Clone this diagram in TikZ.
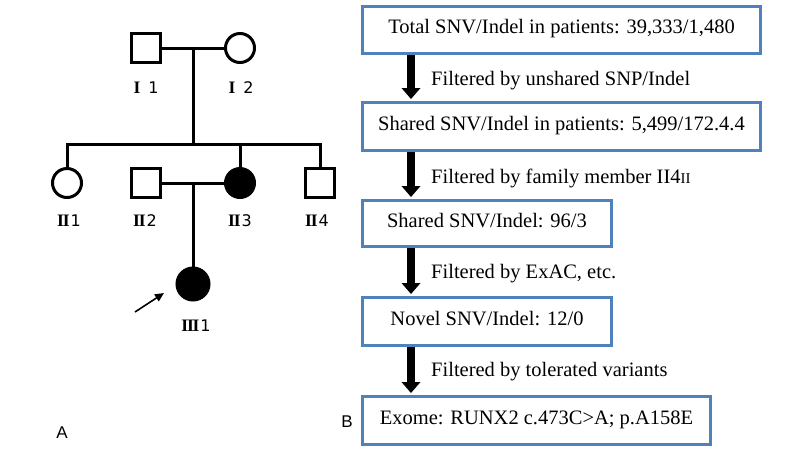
\documentclass[tikz,border=0pt]{standalone}
\usepackage{fontspec}
\setmainfont{Liberation Serif}
\newfontfamily\digfont{DejaVu Sans}
\newfontfamily\lsans{Liberation Sans}
\usetikzlibrary{arrows.meta}
\definecolor{boxblue}{RGB}{79,129,189}
\newcommand\romI{{\rmfamily\bfseries\fontsize{17.5}{18}\selectfont I}}
\newcommand\romII{{\rmfamily\bfseries\fontsize{17.5}{18}\selectfont I\kern-1.2pt I}}
\newcommand\romIII{{\rmfamily\bfseries\fontsize{17.5}{18}\selectfont I\kern-1.2pt I\kern-1.2pt I}}
\tikzset{
  flowbox/.style={draw=boxblue, line width=3pt, rectangle, inner sep=0pt,
    font=\fontsize{20.5}{24}\selectfont, text height=0.75em, text depth=0pt},
  flowarrow/.style={line width=8pt, -{Triangle[width=19pt,length=11pt,line width=0pt]}, shorten >=2pt},
  flowlabel/.style={anchor=base west, inner sep=0pt, font=\fontsize{20.5}{24}\selectfont},
  male/.style={draw, line width=3pt, rectangle, minimum size=29pt, inner sep=0pt},
  female/.style={draw, line width=3pt, circle, minimum size=29pt, inner sep=0pt},
  affected/.style={fill=black},
  pline/.style={line width=3pt},
  plabel/.style={inner sep=0pt, anchor=base, font=\digfont\fontsize{16}{18}\selectfont},
  panel/.style={inner sep=0pt, font=\lsans\fontsize{17}{20}\selectfont}
}
\begin{document}
\begin{tikzpicture}[x=1pt,y=-1pt]
\useasboundingbox (0,0) rectangle (800,451);
\fill[white] (0,0) rectangle (800,451);
% ---------- pedigree ----------
\node[male]   (p11) at (146,48) {};
\node[female] (p12) at (240,48) {};
\node[female] (p21) at (67,183) {};
\node[male]   (p22) at (146,183) {};
\node[female,affected] (p23) at (240,183) {};
\node[male]   (p24) at (320,183) {};
\node[female,affected,minimum size=32pt] (p31) at (193,284) {};
\coordinate (m1) at (193,48);
\coordinate (sib) at (193,144);
\coordinate (m2) at (193,183);
\draw[pline] (p11.east) -- (p12.west);
\draw[pline] (m1) -- (sib);
\draw[pline] (p21.north) |- (sib) -| (p24.north);
\draw[pline] (p23.north) -- (p23.north |- sib);
\draw[pline] (p22.east) -- (p23.west);
\draw[pline] (m2) -- (p31.north);
\coordinate (pa0) at (135,312);
\coordinate (pa1) at (164,293);
\draw[line width=1.6pt, -{Triangle[width=8pt,length=9pt]}] (pa0) -- (pa1);
\node[plabel] (l11) at (146,93) {\romI\hspace{8pt}1};
\node[plabel] (l12) at (241,93) {\romI\hspace{8pt}2};
\node[plabel] (l21) at (69,226) {\romII\hspace{1pt}1};
\node[plabel] (l22) at (145,226) {\romII\hspace{1pt}2};
\node[plabel] (l23) at (240,226) {\romII\hspace{1pt}3};
\node[plabel] (l24) at (317,226) {\romII\hspace{1pt}4};
\node[plabel] (l31) at (196,331) {\romIII\hspace{1pt}1};
\node[panel] (pA) at (62,433) {A};
% ---------- flow chart ----------
\node[flowbox, minimum width=398pt, minimum height=47pt] (b1) at (561.5,30) {Total SNV/Indel in patients: 39,333/1,480};
\node[flowbox, minimum width=398pt, minimum height=48pt] (b2) at (561.5,126.5) {Shared SNV/Indel in patients: 5,499/172.4.4};
\node[flowbox, minimum width=249pt, minimum height=46pt] (b3) at (487,223.5) {Shared SNV/Indel: 96/3};
\node[flowbox, minimum width=249pt, minimum height=48pt] (b4) at (487,321.5) {Novel SNV/Indel: 12/0};
\node[flowbox, minimum width=348pt, minimum height=48pt] (b5) at (536.5,420.5) {Exome: RUNX2 c.473C>A; p.A158E};
\draw[flowarrow] ([xshift=50pt]b1.south west) -- ([xshift=50pt]b2.north west);
\draw[flowarrow] ([xshift=50pt]b2.south west) -- ([xshift=50pt]b3.north west);
\draw[flowarrow] ([xshift=50pt]b3.south west) -- ([xshift=50pt]b4.north west);
\draw[flowarrow] ([xshift=50pt]b4.south west) -- ([xshift=50pt]b5.north west);
\node[flowlabel] (f1) at (431,85) {Filtered by unshared SNP/Indel};
\node[flowlabel] (f2) at (431,183) {Filtered by family member II4{\fontsize{15}{18}\selectfont II}};
\node[flowlabel] (f3) at (431,278) {Filtered by ExAC, etc.};
\node[flowlabel] (f4) at (431,376) {Filtered by tolerated variants};
\node[panel] (pB) at (347,422) {B};
\end{tikzpicture}
\end{document}
